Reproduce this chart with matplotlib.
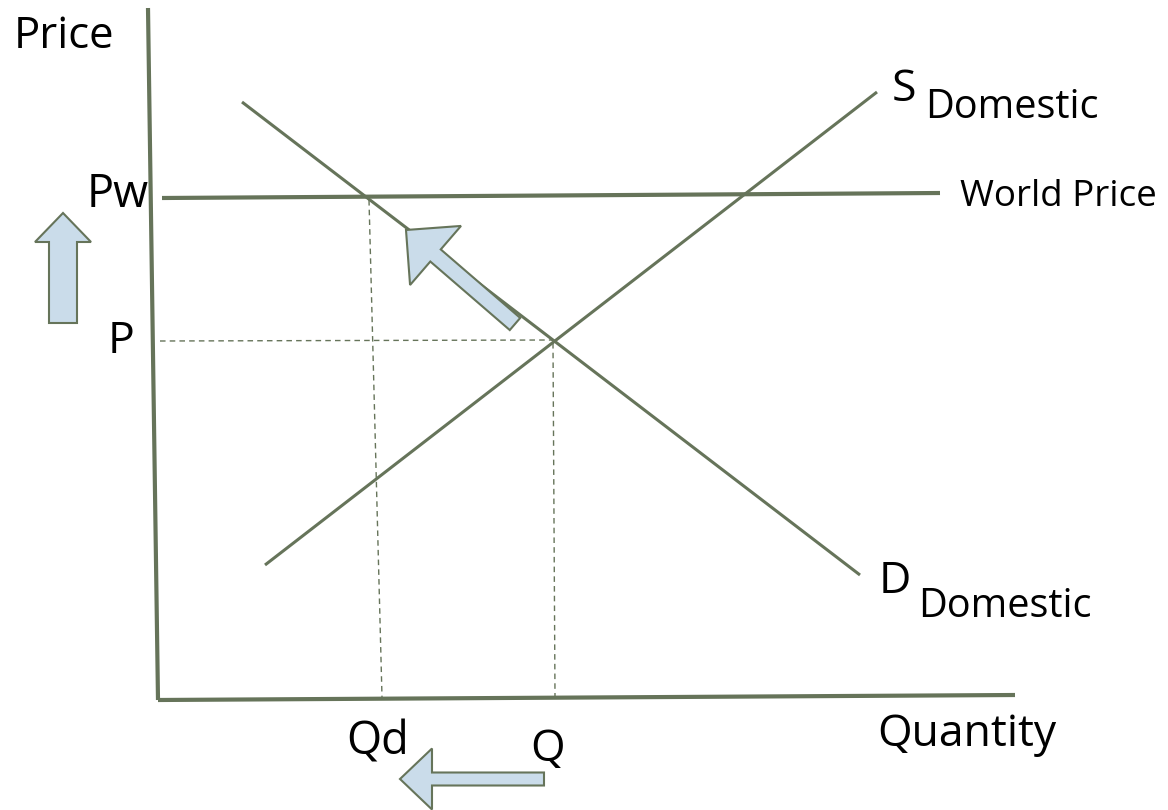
import matplotlib.pyplot as plt
from matplotlib.patches import FancyArrow

plt.rcParams['font.family'] = ['Open Sans', 'DejaVu Sans']

# diagram geometry, in picture pixels (y grows downward)
y_axis = ([148, 158], [8, 700])
x_axis = ([158, 1015], [700, 695])
world_price = ([162, 940], [198, 193])
supply = ([265, 877], [565, 92])
demand = ([242, 860], [102, 575])
p_guide = ([160, 552], [341, 340])
q_guide = ([553, 555], [343, 697])
qd_guide = ([369, 382], [200, 697])

# block arrows: tail x, tail y, dx, dy, width, head width, head length
arrows = [
    (63, 323, 0, -110, 28, 56, 29),
    (515, 324, -109, -94, 16, 78, 39),
    (544, 779, -144, 0, 13, 61, 32),
]

labels = [
    ('Price', 14, 37, 31.5),
    ('Pw', 87, 195, 32.5),
    ('P', 108, 342, 32),
    ('Qd', 346, 743, 32.5),
    ('Q', 530, 750, 32),
    ('Quantity', 877, 735, 32),
    ('S', 892, 90, 32),
    ('Domestic', 925, 108, 28.5),
    ('World Price', 960, 197, 26.5),
    ('D', 879, 582, 32),
    ('Domestic', 918, 607, 28.5),
]

line_col = '#66745a'
fill_col = '#cadcea'

fig = plt.figure(figsize=(11.68, 8.10), dpi=100)
ax = fig.add_axes([0, 0, 1, 1])
ax.set_xlim(0, 1168)
ax.set_ylim(810, 0)
ax.axis('off')

for xs, ys in [y_axis, x_axis, world_price]:
    ax.plot(xs, ys, color=line_col, lw=3, solid_capstyle='butt')
for xs, ys in [supply, demand]:
    ax.plot(xs, ys, color=line_col, lw=2.2, solid_capstyle='butt')
for xs, ys in [p_guide, q_guide, qd_guide]:
    ax.plot(xs, ys, color=line_col, lw=1, dashes=(4, 3))

for x, y, dx, dy, w, hw, hl in arrows:
    ax.add_patch(FancyArrow(x, y, dx, dy, width=w, head_width=hw, head_length=hl,
                            length_includes_head=True, facecolor=fill_col,
                            edgecolor=line_col, lw=1.5, zorder=3))

for txt, x, y, size in labels:
    ax.text(x, y, txt, fontsize=size, ha='left', va='center', color='black')

fig.savefig('out.png', dpi=100)
